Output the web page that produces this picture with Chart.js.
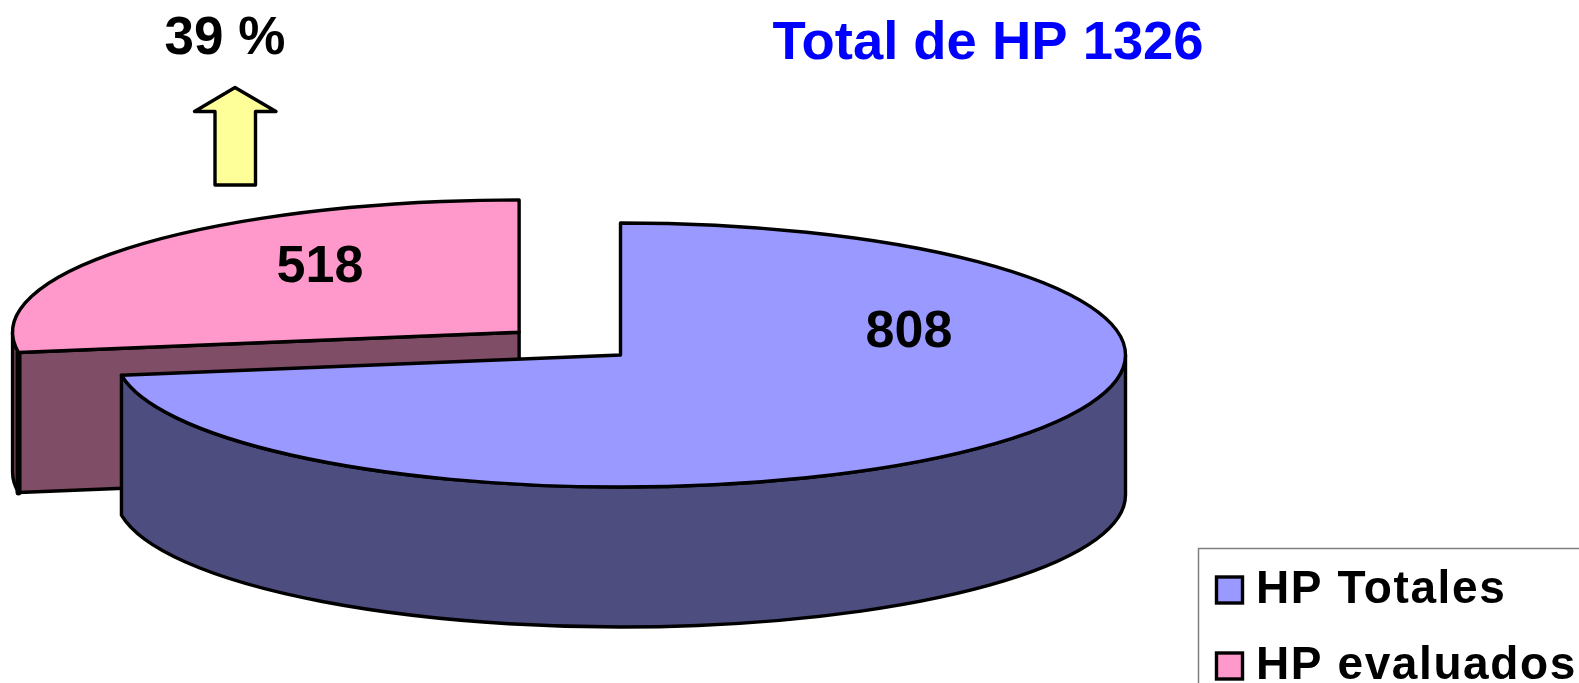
<!DOCTYPE html>
<html><head><meta charset="utf-8">
<style>html,body{margin:0;padding:0;background:#fff;overflow:hidden}canvas{display:block}</style>
<script src="https://cdn.jsdelivr.net/npm/chart.js@4/dist/chart.umd.js"></script>
</head><body>
<canvas id="c" width="1579" height="683"></canvas>
<script>
const categories = ['HP Totales', 'HP evaluados'];
const values = [808, 518];
// Sweep of each slice as it appears in the picture (perspective foreshortening), degrees
const apparentSweep = [261.2, 98.8];
const topColors = ['#9999FF', '#FF99CC'];
const wallColors = ['#4D4D80', '#804D66'];
const chartTitle = 'Total de HP 1326';
const shareLabel = '39 %';

const TILT = 132 / 505, DEPTH = 140, FONT = '"Liberation Sans", Arial, sans-serif';

Chart.DoughnutController.prototype.calculateCircumference = function (value) {
  const i = values.indexOf(Math.round(value));
  return (i < 0 ? 0 : apparentSweep[i]) * Math.PI / 180;
};

function geom(arc, opt) {
  const off = (opt.offset || 0) / 4;
  const half = (arc.startAngle + arc.endAngle) / 2;
  const fix = 1 - Math.sin(Math.min(Math.PI, arc.circumference));
  const r = arc.outerRadius + off * fix;
  return { cx: arc.x + Math.cos(half) * off, cy: arc.y + Math.sin(half) * off * TILT, r, ry: r * TILT, a0: arc.startAngle, a1: arc.endAngle };
}
const pt = (g, a) => [g.cx + Math.cos(a) * g.r, g.cy + Math.sin(a) * g.ry];

function style(ctx, w) { ctx.strokeStyle = '#000'; ctx.lineWidth = w || 3.4; ctx.lineJoin = 'round'; ctx.lineCap = 'round'; }

function outerWall(ctx, g, from, to, fill) {
  const p0 = pt(g, from), p1 = pt(g, to);
  ctx.beginPath();
  ctx.ellipse(g.cx, g.cy, g.r, g.ry, 0, from, to);
  ctx.lineTo(p1[0], p1[1] + DEPTH);
  ctx.ellipse(g.cx, g.cy + DEPTH, g.r, g.ry, 0, to, from, true);
  ctx.lineTo(p0[0], p0[1]);
  ctx.closePath();
  ctx.fillStyle = fill; ctx.fill(); style(ctx); ctx.stroke();
}

const pie3d = {
  id: 'pie3d',
  beforeDraw(chart) {
    const ctx = chart.ctx;
    ctx.save();
    ctx.textBaseline = 'middle'; ctx.textAlign = 'center';
    ctx.fillStyle = '#000'; ctx.font = 'bold 53px ' + FONT;
    ctx.fillText(shareLabel, 225, 39);
    ctx.fillStyle = '#0000FF'; ctx.font = 'bold 54.4px ' + FONT;
    ctx.fillText(chartTitle, 988, 44);
    // arrow
    ctx.beginPath();
    [[235, 87.5], [276, 111.5], [255.5, 111.5], [255.5, 185], [215, 185], [215, 111.5], [194.5, 111.5]]
      .forEach((p, i) => i ? ctx.lineTo(p[0], p[1]) : ctx.moveTo(p[0], p[1]));
    ctx.closePath();
    ctx.fillStyle = '#FFFF99'; ctx.fill(); style(ctx); ctx.stroke();
    ctx.restore();
  },
  beforeDatasetDraw(chart) {
    const ctx = chart.ctx, meta = chart.getDatasetMeta(0);
    const blue = geom(meta.data[0], meta.data[0].options);
    const pink = geom(meta.data[1], meta.data[1].options);
    ctx.save();
    // pink slice: outer wall left of the cut, then the cut face
    outerWall(ctx, pink, pink.a0, Math.PI, wallColors[1]);
    const s = pt(pink, pink.a0);
    ctx.beginPath();
    ctx.moveTo(pink.cx, pink.cy);
    ctx.lineTo(s[0], s[1]);
    ctx.lineTo(s[0], s[1] + DEPTH);
    ctx.lineTo(pink.cx, pink.cy + DEPTH);
    ctx.closePath();
    ctx.fillStyle = wallColors[1]; ctx.fill(); style(ctx); ctx.stroke();
    style(ctx, 6);
    ctx.beginPath(); ctx.moveTo(s[0], s[1]); ctx.lineTo(s[0], s[1] + DEPTH); ctx.stroke();
    // blue slice: front wall
    outerWall(ctx, blue, 0, blue.a1, wallColors[0]);
    ctx.restore();
    // tops are drawn by the library, flattened
    ctx.save();
    const y = meta.data[0].y;
    ctx.translate(0, y); ctx.scale(1, TILT); ctx.translate(0, -y);
  },
  afterDatasetDraw(chart) {
    const ctx = chart.ctx, meta = chart.getDatasetMeta(0);
    ctx.restore();
    ctx.save();
    style(ctx);
    meta.data.forEach(arc => {
      const g = geom(arc, arc.options);
      ctx.beginPath();
      ctx.moveTo(g.cx, g.cy);
      ctx.ellipse(g.cx, g.cy, g.r, g.ry, 0, g.a0, g.a1);
      ctx.closePath();
      ctx.stroke();
    });
    ctx.textAlign = 'center'; ctx.textBaseline = 'middle';
    ctx.fillStyle = '#000'; ctx.font = 'bold 52px ' + FONT;
    ctx.fillText(String(values[0]), 909, 333);
    ctx.fillText(String(values[1]), 320, 268);
    // legend
    ctx.strokeStyle = '#808080'; ctx.lineWidth = 1.5; ctx.lineCap = 'butt';
    ctx.beginPath(); ctx.moveTo(1579, 548.5); ctx.lineTo(1198.5, 548.5); ctx.lineTo(1198.5, 683); ctx.stroke();
    categories.forEach((c, i) => {
      const y = 590 + i * 76;
      ctx.fillStyle = topColors[i];
      ctx.fillRect(1216.5, y - 13, 26, 26);
      style(ctx); ctx.lineJoin = 'miter';
      ctx.strokeRect(1216.5, y - 13, 26, 26);
      ctx.fillStyle = '#000'; ctx.font = 'bold 46px ' + FONT;
      ctx.textAlign = 'left'; ctx.letterSpacing = '1.6px';
      ctx.fillText(c, 1256, y);
      ctx.letterSpacing = '0px';
    });
    ctx.restore();
  }
};

new Chart(document.getElementById('c'), {
  type: 'pie',
  data: {
    labels: categories,
    datasets: [{ data: values, backgroundColor: topColors, borderWidth: 0, offset: [0, 534] }]
  },
  options: {
    responsive: false, animation: false, radius: 505,
    layout: { padding: { left: 2, right: 340, top: 27, bottom: 0 } },
    plugins: { legend: { display: false }, tooltip: { enabled: false }, title: { display: false } }
  },
  plugins: [pie3d]
});
</script>
</body></html>
